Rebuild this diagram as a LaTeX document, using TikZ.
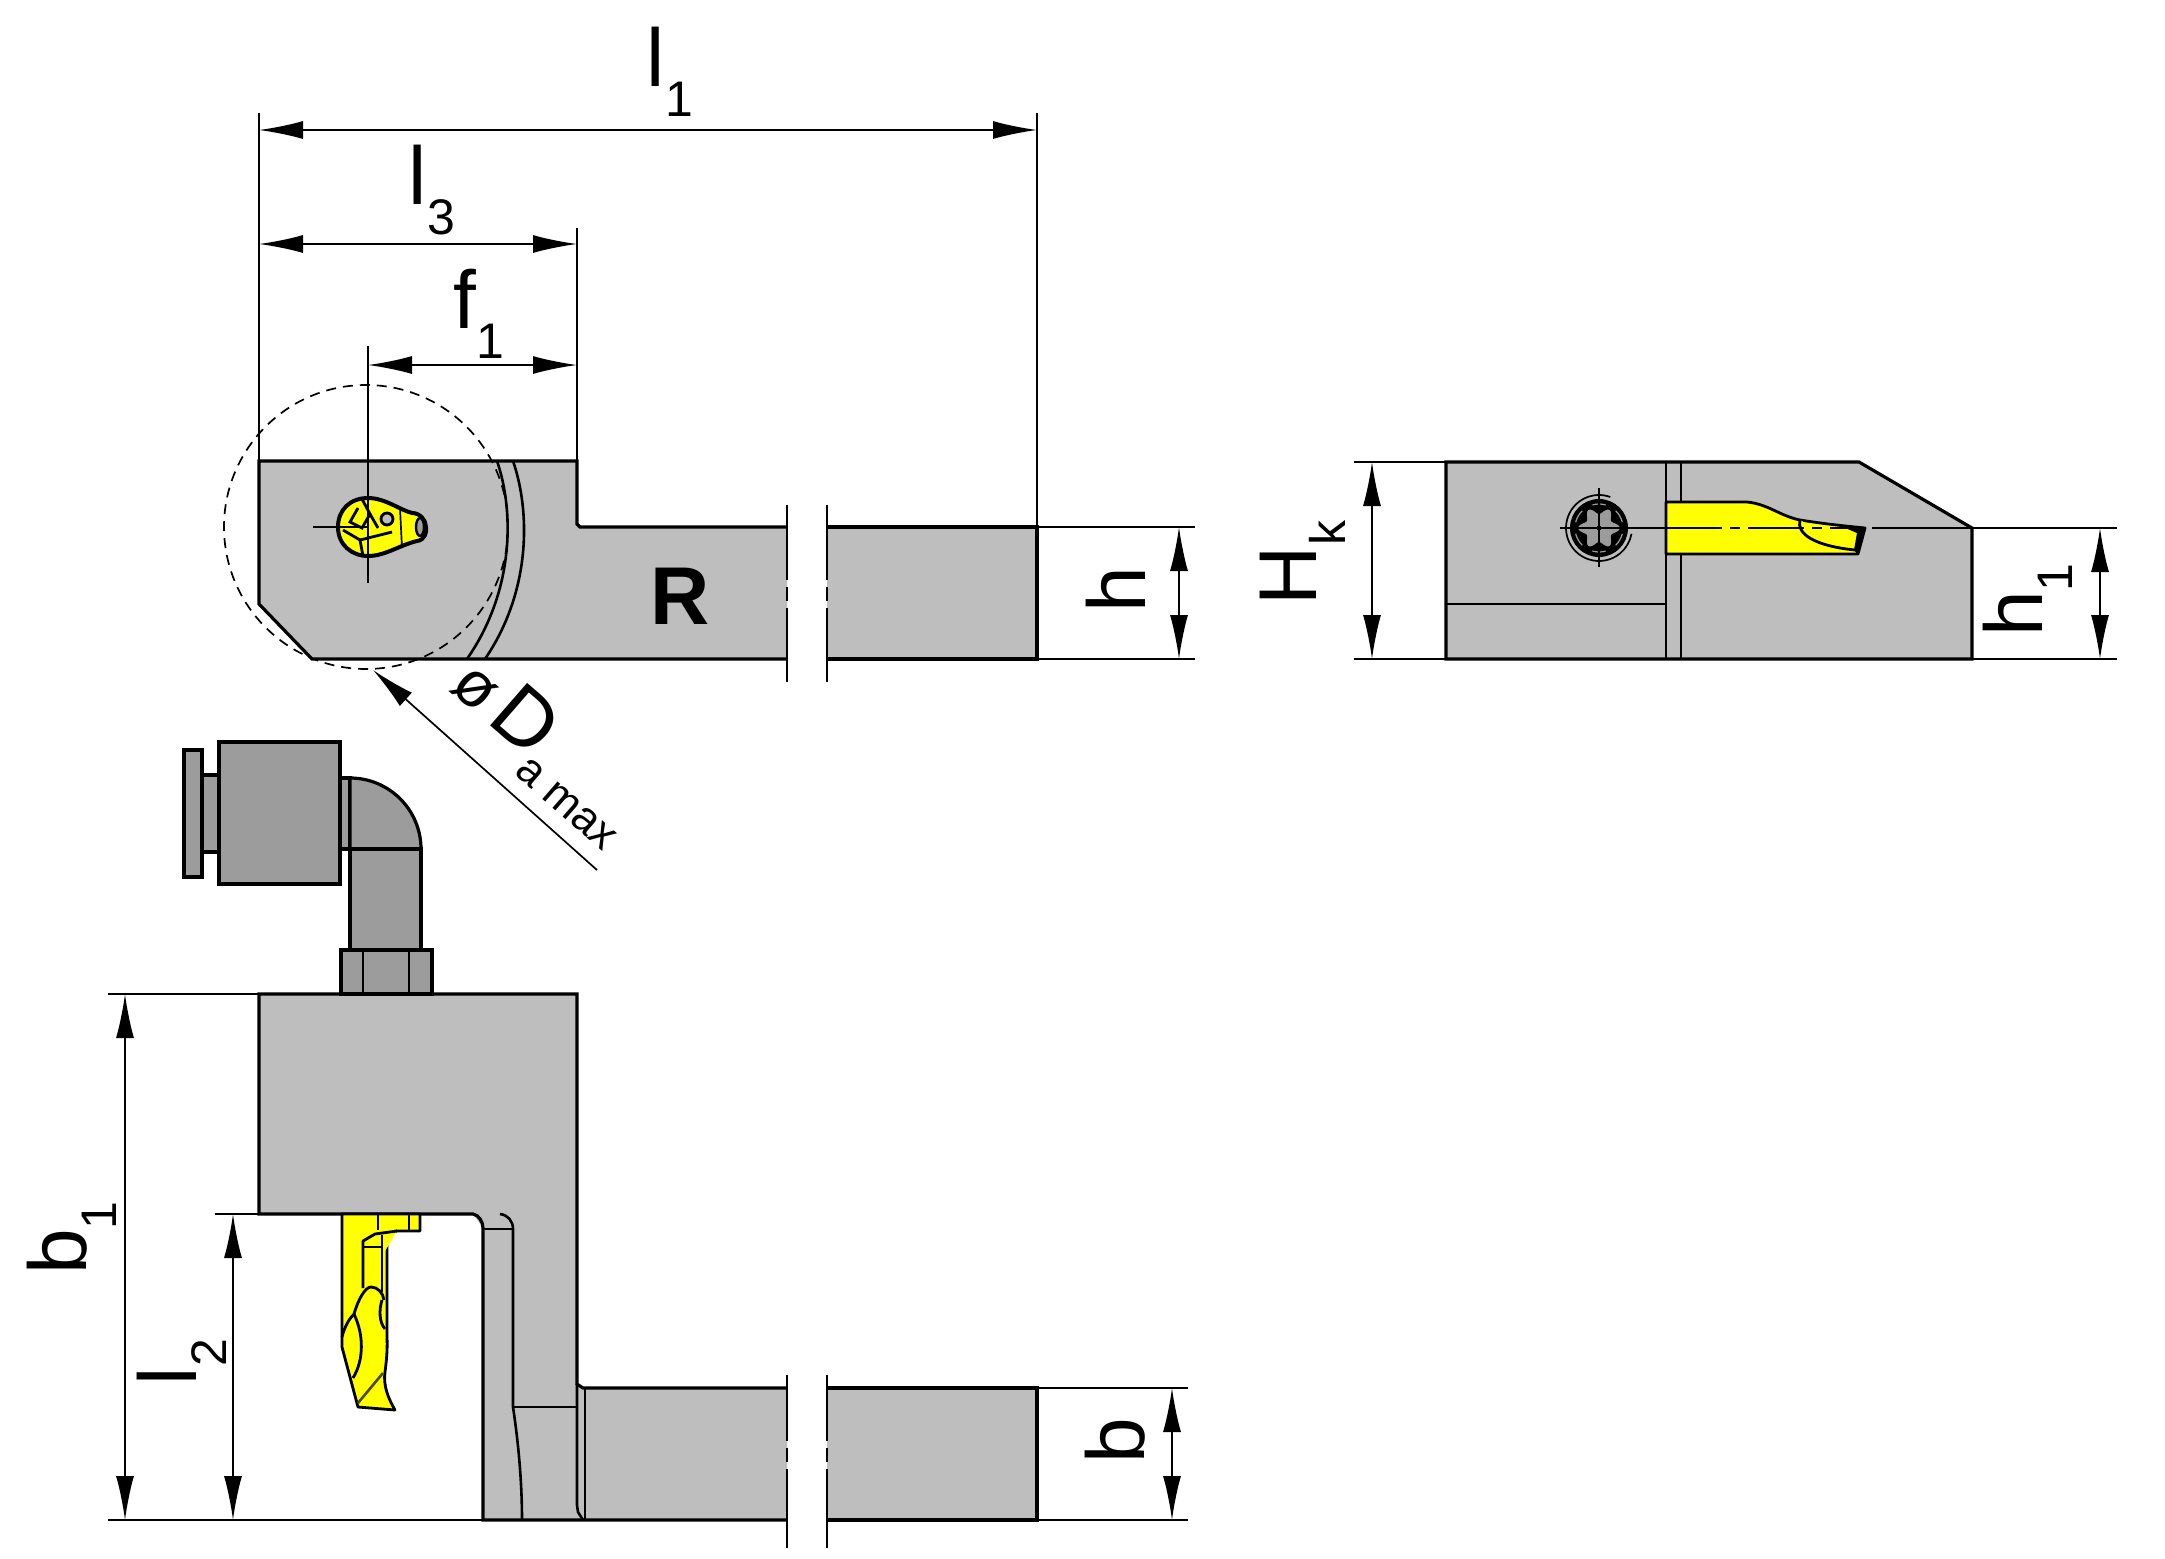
\documentclass[tikz,border=0pt]{standalone}
\usepackage{fontspec}
\setmainfont{Liberation Sans}
\usetikzlibrary{arrows.meta}
\definecolor{bodygrey}{HTML}{BEBEBE}
\definecolor{fitgrey}{HTML}{9C9C9C}
\definecolor{insert}{HTML}{FFFF00}
\newcommand{\dimlabel}[2]{#1\raisebox{-0.36em}{\fontsize{25}{25}\selectfont #2}}

\begin{document}
\begin{tikzpicture}[x=0.5pt,y=-0.5pt]
    \tikzstyle{body}=[fill=bodygrey,draw=black,line width=1.6pt,line join=miter]
    \tikzstyle{fitting}=[fill=fitgrey,draw=black,line width=1.6pt]
    \tikzstyle{tip}=[fill=insert,draw=black,line width=1.4pt,line join=round]
    \tikzstyle{edge line}=[draw=black,line width=1.3pt]
    \tikzstyle{thin line}=[draw=black,line width=0.85pt]
    \tikzstyle{dim}=[thin line,<->,>={Latex[length=22pt,width=9pt]}]
    \tikzstyle{annot}=[font=\fontsize{41}{41}\selectfont,inner sep=0pt]
    \useasboundingbox (0,0) rectangle (2165,1559);

    % Draw the top view
    \path[fill=bodygrey] (259,461) -- (577,461) -- (577,527) -- (787,527) -- (787,659) -- (312,659) -- (259,604) -- cycle;
    \draw[body] (787,527) -- (580,527) -- (577,524) -- (577,461) -- (259,461) -- (259,604) -- (312,659) -- (787,659);
    \draw[body] (827,527) -- (1037,527) -- (1037,659) -- (827,659);
    \draw[edge line] (513,461) .. controls (530,510) and (532,590) .. (485,659);
    \draw[edge line] (497,461) .. controls (514,510) and (515,590) .. (467,659);
    \draw[thin line,dash pattern=on 5pt off 3.5pt] (366,527) circle[radius=142];

    % Draw the insert in the top view
    \draw[tip,line width=2pt] (368,498) .. controls (350,498) and (338,510) .. (338,527)
        .. controls (338,545) and (352,556) .. (368,556) .. controls (385,556) and (400,545) .. (417,541)
        .. controls (425,540) and (427,532) .. (426,527) .. controls (426,520) and (420,513) .. (412,513)
        .. controls (400,510) and (385,498) .. (368,498) -- cycle;
    \draw[tip,line width=1.2pt,fill=fitgrey] (420,527) ellipse[x radius=4,y radius=9];
    \draw[draw=black,line width=1.4pt] (343,530) -- (360,540) -- (363,556);
    \draw[draw=black,line width=1.4pt] (360,540) -- (392,532);
    \draw[draw=black,line width=1.4pt] (362,499) -- (370,514) -- (362,528) -- (350,522) -- (358,508);
    \draw[draw=black,line width=1.4pt] (370,514) -- (378,528);
    \draw[thin line] (400,508) -- (402,548);
    \draw[fill=bodygrey,draw=black,line width=1.4pt] (387,519) circle[radius=6];

    % Draw the centre lines of the top view
    \coordinate (T-c) at (368,527);
    \draw[thin line] (368,346) -- (368,583);
    \draw[thin line] (313,527) -- (T-c);

    % Draw the side view
    \draw[body] (1446,462) -- (1859,462) -- (1972,528) -- (1972,659) -- (1446,659) -- cycle;
    \draw[edge line] (1666,462) -- (1666,659);
    \draw[thin line] (1681,462) -- (1681,659);
    \draw[edge line] (1446,604) -- (1666,604);

    % Draw the screw
    \draw[thin line] (1599,528) ++(-70:33) arc[start angle=-70,end angle=-350,radius=33];
    \fill[black] (1599,528) circle[radius=29];
    \draw[fill=fitgrey,draw=black,line width=0.5pt,shift={(1599,528)}] plot[domain=0:360,samples=61,smooth] (\x:{18+3.5*cos(6*\x)}) -- cycle;
    \foreach \a in {30,90,...,330}
        \draw[fitgrey,line width=0.6pt] (1599,528) ++({\a-16}:24) arc[start angle=\a-16,end angle=\a+16,radius=24];
    \fill[black] (1599,528) circle[radius=2.5];
    \draw[thin line] (1599,488) -- (1599,567);
    \draw[thin line] (1560,528) -- (1666,528);

    % Draw the insert in the side view
    \draw[tip] (1666,502) -- (1747,502) .. controls (1768,504) and (1780,516) .. (1800,520)
        .. controls (1825,524) and (1845,526) .. (1865,528) -- (1858,554) -- (1666,554) -- cycle;
    \draw[tip] (1800,520) .. controls (1796,534) and (1815,546) .. (1855,550);
    \fill[black] (1843,527) -- (1866,527) -- (1858,555) -- (1854,550) -- (1857,533) -- cycle;
    \draw[thin line,dash pattern=on 28pt off 4pt on 5pt off 4pt] (1666,528) -- (1850,528);
    \draw[thin line] (1872,528) -- (1972,528);

    % Draw the bottom view
    \path[fill=bodygrey] (259,994) -- (577,994) -- (577,1388) -- (787,1388) -- (787,1520) -- (483,1520) -- (483,1228) -- (473,1214) -- (259,1214) -- cycle;
    \draw[body] (787,1388) -- (583,1388) -- (577,1384) -- (577,994) -- (259,994) -- (259,1214) -- (473,1214) .. controls (479,1215) and (483,1222) .. (483,1228) -- (483,1520) -- (787,1520);
    \draw[body] (827,1388) -- (1037,1388) -- (1037,1520) -- (827,1520);
    \draw[edge line] (500,1214) .. controls (508,1215) and (513,1221) .. (513,1229) -- (513,1407);
    \draw[thin line] (483,1229) -- (513,1229);
    \draw[edge line] (513,1407) -- (577,1407);
    \draw[edge line] (513,1407) .. controls (518,1440) and (522,1480) .. (522,1520);
    \draw[edge line] (577,1384) -- (577,1505) -- (578,1512) -- (583,1520);
    \draw[thin line] (585,1388) -- (585,1520);

    % Draw the insert in the bottom view
    \draw[tip] (342,1214) -- (342,1347) -- (358,1407) -- (395,1410) .. controls (388,1398) and (383,1385) .. (385,1372)
        .. controls (388,1350) and (387,1340) .. (387,1337) -- (387,1237) .. controls (390,1233) and (394,1231) .. (397,1231)
        -- (420,1231) -- (420,1214) -- cycle;
    \draw[tip] (363,1288) -- (363,1241) -- (375,1234) -- (397,1231);
    \draw[tip] (382,1235) -- (382,1292);
    \draw[thin line] (363,1247) -- (382,1247);
    \draw[thin line] (378,1214) -- (378,1230);
    \draw[thin line] (409,1214) -- (409,1230);
    \draw[tip] (342,1337) .. controls (345,1325) and (350,1318) .. (354,1314) .. controls (358,1300) and (365,1287) .. (371,1287)
        .. controls (378,1287) and (383,1293) .. (384,1300);
    \draw[tip] (354,1314) .. controls (364,1335) and (364,1360) .. (353,1378);
    \draw[tip] (382,1300) .. controls (379,1310) and (379,1322) .. (385,1329);
    \draw[draw=black!70!insert,line width=1.3pt] (358,1403) -- (383,1373);

    % Draw the fitting
    \draw[fitting] (184,750) rectangle (202,877);
    \draw[fitting] (202,775) rectangle (219,852);
    \draw[fitting] (219,742) rectangle (340,884);
    \draw[fitting] (340,778) rectangle (350,849);
    \draw[fitting] (350,778) arc[start angle=-90,end angle=0,radius=71] -- (350,849) -- cycle;
    \draw[fitting] (350,849) rectangle (421,950);
    \draw[thin line] (350,849) -- (421,849);
    \draw[fitting] (341,950) rectangle (432,994);
    \draw[edge line] (363,950) -- (363,994);
    \draw[edge line] (409,950) -- (409,994);

    % Draw the breaks in the shanks
    \foreach \x in {787,827}{
        \draw[edge line] (\x,505) -- (\x,580);
        \draw[edge line] (\x,587) -- (\x,601);
        \draw[edge line] (\x,608) -- (\x,682);
        \draw[edge line] (\x,1375) -- (\x,1441);
        \draw[edge line] (\x,1448) -- (\x,1462);
        \draw[edge line] (\x,1469) -- (\x,1548);
    }

    % Draw the extension lines
    \coordinate (L-1) at (259,113);
    \coordinate (L-2) at (259,461);
    \coordinate (L-3) at (1037,113);
    \coordinate (L-4) at (1037,527);
    \coordinate (L-5) at (577,228);
    \coordinate (L-6) at (577,461);
    \draw[thin line] (L-1) -- (L-2);
    \draw[thin line] (L-3) -- (L-4);
    \draw[thin line] (L-5) -- (L-6);
    \draw[thin line] (1037,527) -- (1195,527);
    \draw[thin line] (1037,659) -- (1195,659);
    \draw[thin line] (1354,462) -- (1446,462);
    \draw[thin line] (1354,659) -- (1446,659);
    \draw[thin line] (1972,528) -- (2117,528);
    \draw[thin line] (1972,659) -- (2117,659);
    \draw[thin line] (108,994) -- (259,994);
    \draw[thin line] (108,1520) -- (483,1520);
    \draw[thin line] (215,1214) -- (259,1214);
    \draw[thin line] (1037,1388) -- (1188,1388);
    \draw[thin line] (1037,1520) -- (1188,1520);

    % Draw the dimension lines
    \coordinate (A-1) at (259,130);
    \coordinate (A-2) at (1037,130);
    \coordinate (B-1) at (259,244);
    \coordinate (B-2) at (577,244);
    \coordinate (C-1) at (368,365);
    \coordinate (C-2) at (577,365);
    \coordinate (D-1) at (1179,527);
    \coordinate (D-2) at (1179,659);
    \coordinate (E-1) at (1372,462);
    \coordinate (E-2) at (1372,659);
    \coordinate (F-1) at (2100,528);
    \coordinate (F-2) at (2100,659);
    \coordinate (G-1) at (125,994);
    \coordinate (G-2) at (125,1520);
    \coordinate (H-1) at (233,1214);
    \coordinate (H-2) at (233,1520);
    \coordinate (J-1) at (1172,1388);
    \coordinate (J-2) at (1172,1520);
    \draw[dim] (A-1) -- (A-2);
    \draw[dim] (B-1) -- (B-2);
    \draw[dim] (C-1) -- (C-2);
    \draw[dim] (D-1) -- (D-2);
    \draw[dim] (E-1) -- (E-2);
    \draw[dim] (F-1) -- (F-2);
    \draw[dim] (G-1) -- (G-2);
    \draw[dim] (H-1) -- (H-2);
    \draw[dim] (J-1) -- (J-2);

    % Draw the diameter leader
    \coordinate (M-1) at (597,870);
    \coordinate (M-2) at (373,670);
    \draw[thin line,->,>={Latex[length=22pt,width=9pt]}] (M-1) -- (M-2);

    % Annotate the dimensions
    \node[annot] (l1) at (670,72) {\dimlabel{l}{1}};
    \node[annot] (l3) at (432,190) {\dimlabel{l}{3}};
    \node[annot] (f1) at (479,314) {\dimlabel{f}{1}};
    \node[annot,font=\fontsize{41}{41}\selectfont\bfseries] (R) at (680,596) {R};
    \node[annot,rotate=90] (h) at (1116,590) {h};
    \node[annot,rotate=90] (Hk) at (1303,563) {\dimlabel{H}{k}};
    \node[annot,rotate=90] (h1) at (2028,600) {\dimlabel{h}{1}};
    \node[annot,rotate=90] (b1) at (72,1238) {\dimlabel{b}{1}};
    \node[annot,rotate=90] (l2) at (182,1362) {\dimlabel{l}{2}};
    \node[annot,rotate=90] (b) at (1115,1441) {b};
    \node[annot,rotate=-41] (dia) at (507,704) {{\fontsize{32}{32}\selectfont ø}\kern0.12em D};
    \node[annot,rotate=-41,font=\fontsize{22}{22}\selectfont] (amax) at (566,804) {a max};
\end{tikzpicture}
\end{document}
